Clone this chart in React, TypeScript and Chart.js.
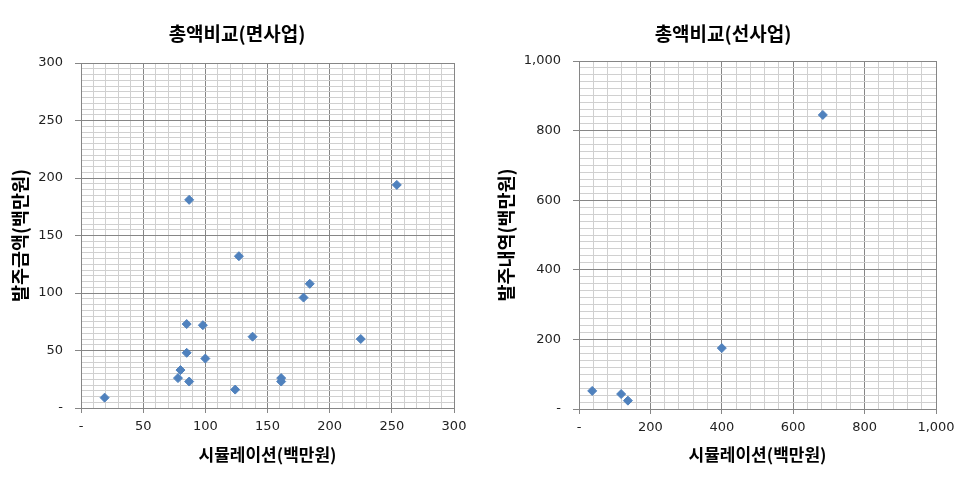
import React, { useEffect, useRef } from 'react';
import { Chart, registerables } from 'chart.js';

Chart.register(...registerables);

// ---- data: left chart (면사업) ----
const leftTitle = '총액비교(면사업)';
const leftXTitle = '시뮬레이션(백만원)';
const leftYTitle = '발주금액(백만원)';
const leftSim = [19, 87, 254, 127, 184, 179, 85, 98, 138, 225, 85, 100, 80, 78, 87, 124, 161, 161];
const leftOrder = [9, 181, 194, 132, 108, 96, 73, 72, 62, 60, 48, 43, 33, 26, 23, 16, 26, 23];
const leftXTicks = [0, 50, 100, 150, 200, 250, 300];
const leftYTicks = [0, 50, 100, 150, 200, 250, 300];

// ---- data: right chart (선사업) ----
const rightTitle = '총액비교(선사업)';
const rightXTitle = '시뮬레이션(백만원)';
const rightYTitle = '발주내역(백만원)';
const rightSim = [37, 118, 137, 400, 683];
const rightOrder = [52, 43, 24, 175, 845];
const rightXTicks = [0, 200, 400, 600, 800, 1000];
const rightYTicks = [0, 200, 400, 600, 800, 1000];

const KR = "'Noto Sans CJK KR', 'Noto Sans', sans-serif";
const NUM = "'DejaVu Sans', sans-serif";
const MAJOR = '#868686';
const MINOR = '#d0d0d0';
const POINT = '#4f81bd';

const fmt = (v: number) => (v === 0 ? '-' : v.toLocaleString('en-US'));

type Spec = {
  title: string;
  xTitle: string;
  yTitle: string;
  xs: number[];
  ys: number[];
  xTicks: number[];
  yTicks: number[];
  xMinor: number;
  yMinor: number;
  width: number;
  height: number;
  padLeft: number;
  padRight: number;
  yAxisWidth: number;
  xAxisHeight: number;
  yTitleOffset: number;
  titleBottom: number;
};

function makeConfig(s: Spec): any {
  const xMax = s.xTicks[s.xTicks.length - 1];
  const yMax = s.yTicks[s.yTicks.length - 1];
  const xMajor = s.xTicks[1] - s.xTicks[0];
  const yMajor = s.yTicks[1] - s.yTicks[0];
  const isMajor = (v: number, m: number) => Math.abs(v / m - Math.round(v / m)) < 1e-6;
  return {
    type: 'scatter',
    data: {
      datasets: [
        {
          data: s.xs.map((x, i) => ({ x, y: s.ys[i] })),
          pointStyle: 'rectRot',
          pointRadius: 4.5,
          backgroundColor: POINT,
          borderColor: POINT,
          borderWidth: 1,
        },
      ],
    },
    options: {
      responsive: false,
      animation: false,
      layout: { padding: { left: s.padLeft, right: s.padRight, top: 0, bottom: 0 } },
      plugins: {
        legend: { display: false },
        tooltip: { enabled: false },
        title: {
          display: true,
          text: s.title,
          color: '#000',
          font: { family: KR, size: 19, weight: 'bold' },
          padding: { top: 22.6, bottom: s.titleBottom },
        },
      },
      scales: {
        x: {
          type: 'linear',
          min: 0,
          max: xMax,
          afterFit: (sc: any) => {
            sc.height = s.xAxisHeight;
          },
          border: { color: MAJOR, width: 1 },
          grid: {
            color: (c: any) => (isMajor(c.tick.value, xMajor) ? MAJOR : MINOR),
            tickColor: (c: any) => (isMajor(c.tick.value, xMajor) ? MAJOR : 'rgba(0,0,0,0)'),
            tickLength: 5,
            lineWidth: 1,
          },
          ticks: {
            stepSize: s.xMinor,
            autoSkip: false,
            maxRotation: 0,
            padding: 6,
            color: '#222',
            font: { family: NUM, size: 13 },
            callback: (v: number) => (isMajor(v, xMajor) ? fmt(v) : ''),
          },
          title: {
            display: true,
            text: s.xTitle,
            color: '#000',
            font: { family: KR, size: 17, weight: 'bold' },
            padding: { top: 0, bottom: 22 },
          },
        },
        y: {
          type: 'linear',
          min: 0,
          max: yMax,
          afterFit: (sc: any) => {
            sc.width = s.yAxisWidth;
          },
          border: { color: MAJOR, width: 1 },
          grid: {
            color: (c: any) => (isMajor(c.tick.value, yMajor) ? MAJOR : MINOR),
            tickColor: (c: any) => (isMajor(c.tick.value, yMajor) ? MAJOR : 'rgba(0,0,0,0)'),
            tickLength: 6,
            lineWidth: 1,
          },
          ticks: {
            stepSize: s.yMinor,
            autoSkip: false,
            padding: 12,
            color: '#222',
            font: { family: NUM, size: 13 },
            callback: (v: number) => (isMajor(v, yMajor) ? fmt(v) : ''),
          },
          title: {
            display: true,
            text: s.yTitle,
            color: '#000',
            font: { family: KR, size: 18.5, weight: 'bold' },
            padding: { top: s.yTitleOffset, bottom: 0 },
          },
        },
      },
    },
  };
}

function ScatterPanel({ spec, left }: { spec: Spec; left: number }) {
  const ref = useRef<HTMLCanvasElement | null>(null);
  useEffect(() => {
    if (!ref.current) return;
    const chart = new Chart(ref.current, makeConfig(spec));
    return () => chart.destroy();
  }, [spec]);
  return (
    <canvas
      ref={ref}
      width={spec.width}
      height={spec.height}
      style={{ position: 'absolute', left, top: 0, width: spec.width, height: spec.height }}
    />
  );
}

const leftSpec: Spec = {
  title: leftTitle,
  xTitle: leftXTitle,
  yTitle: leftYTitle,
  xs: leftSim,
  ys: leftOrder,
  xTicks: leftXTicks,
  yTicks: leftYTicks,
  xMinor: 10,
  yMinor: 5,
  width: 488,
  height: 487,
  padLeft: 20,
  padRight: 34,
  yAxisWidth: 61,
  xAxisHeight: 79,
  yTitleOffset: -11.1,
  titleBottom: 17.6,
};

const rightSpec: Spec = {
  title: rightTitle,
  xTitle: rightXTitle,
  yTitle: rightYTitle,
  xs: rightSim,
  ys: rightOrder,
  xTicks: rightXTicks,
  yTicks: rightYTicks,
  xMinor: 40,
  yMinor: 20,
  width: 489,
  height: 487,
  padLeft: 22,
  padRight: 41,
  yAxisWidth: 69,
  xAxisHeight: 78,
  yTitleOffset: -15.1,
  titleBottom: 15.6,
};

export default function App() {
  return (
    <div
      style={{
        position: 'fixed',
        left: 0,
        top: 0,
        width: 977,
        height: 487,
        background: '#fff',
        overflow: 'hidden',
      }}
    >
      <ScatterPanel spec={leftSpec} left={0} />
      <ScatterPanel spec={rightSpec} left={488} />
    </div>
  );
}
